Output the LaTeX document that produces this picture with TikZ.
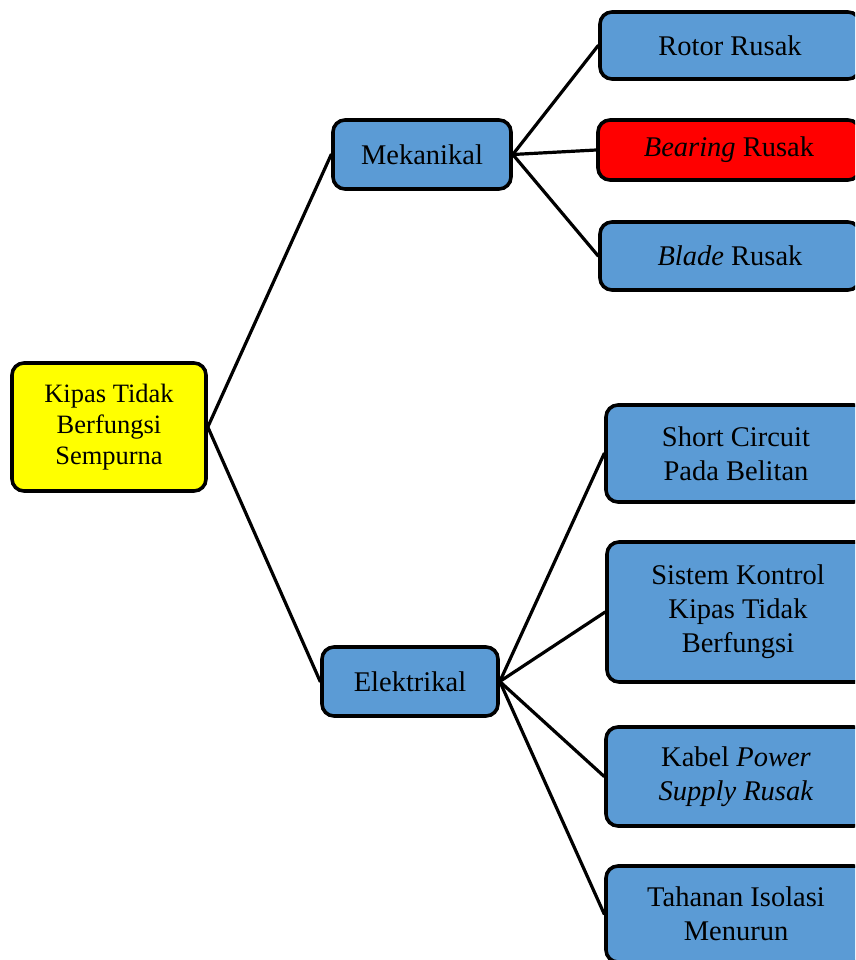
\documentclass[tikz,border=0pt]{standalone}
\usepackage{fontspec}
\setmainfont{Liberation Serif}
\definecolor{boxblue}{HTML}{5B9BD5}
\definecolor{boxyellow}{HTML}{FFFF00}
\definecolor{boxred}{HTML}{FF0000}
\begin{document}
\begin{tikzpicture}[x=1pt,y=-1pt,
  box/.style={draw=black, line width=3.6pt, rounded corners=12pt, fill=boxblue,
    inner sep=0pt, align=center, font=\fontsize{28.5}{34}\selectfont},
  rootbox/.style={box, fill=boxyellow, font=\fontsize{26.5}{31}\selectfont},
  redbox/.style={box, fill=boxred},
  link/.style={draw=black, line width=3.2pt, line cap=round}]
\useasboundingbox (0,0) rectangle (855,960);
\clip (0,0) rectangle (855,960);
% root
\node[rootbox, minimum width=194pt, minimum height=128pt] (root) at (109,427) {\raisebox{-4pt}{\begin{tabular}{@{}c@{}}Kipas Tidak\\Berfungsi\\Sempurna\end{tabular}}};
% level 1
\node[box, minimum width=178pt, minimum height=69pt] (mek) at (422,154.5) {Mekanikal};
\node[box, minimum width=176pt, minimum height=69pt] (ele) at (410,681.5) {Elektrikal};
% mechanical leaves
\node[box, minimum width=260pt, minimum height=67pt] (rotor) at (730,45.5) {Rotor Rusak};
\node[redbox, minimum width=262pt, minimum height=60pt] (bearing) at (729,150) {\textit{Bearing} Rusak};
\node[box, minimum width=260pt, minimum height=68pt] (blade) at (730,256) {\textit{Blade} Rusak};
% electrical leaves
\node[box, minimum width=260pt, minimum height=97pt] (short) at (736,453.5) {Short Circuit\\Pada Belitan};
\node[box, minimum width=262pt, minimum height=140pt] (sistem) at (738,612) {Sistem Kontrol\\Kipas Tidak\\Berfungsi};
\node[box, minimum width=260pt, minimum height=99pt] (kabel) at (736,776.5) {Kabel \textit{Power}\\\textit{Supply Rusak}};
\node[box, minimum width=260pt, minimum height=96pt] (tahanan) at (736,914) {Tahanan Isolasi\\Menurun};
% connectors
\draw[link] (root.east) -- (mek.west);
\draw[link] (root.east) -- (ele.west);
\draw[link] (mek.east) -- (rotor.west);
\draw[link] (mek.east) -- (bearing.west);
\draw[link] (mek.east) -- (blade.west);
\draw[link] (ele.east) -- (short.west);
\draw[link] (ele.east) -- (sistem.west);
\draw[link] (ele.east) -- (kabel.west);
\draw[link] (ele.east) -- (tahanan.west);
\end{tikzpicture}
\end{document}
